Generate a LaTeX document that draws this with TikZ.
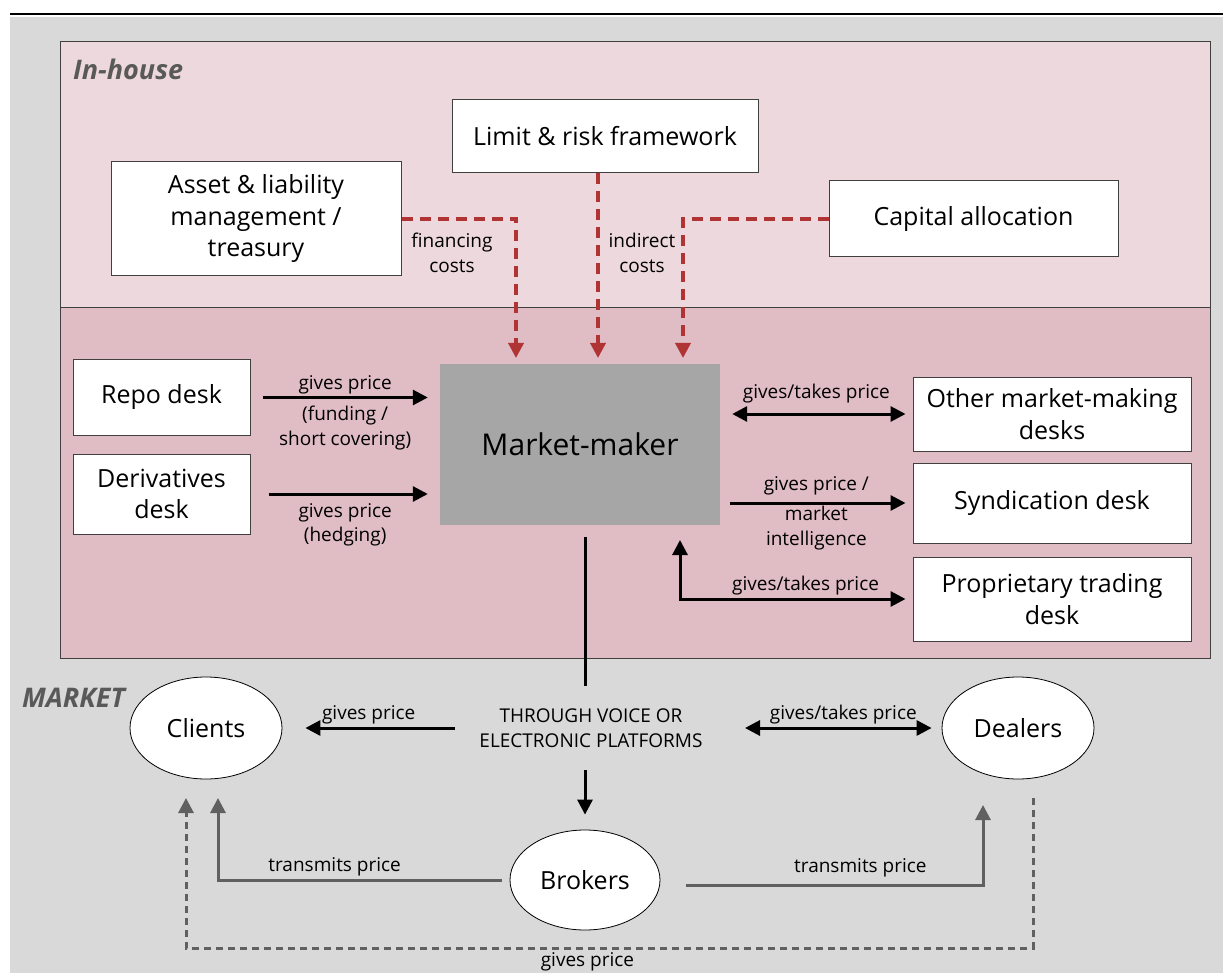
\documentclass[tikz,border=0pt]{standalone}
\usepackage{fontspec}
\setmainfont{Open Sans}
\usetikzlibrary{arrows.meta,shapes.geometric}
\definecolor{bggrey}{RGB}{217,217,217}
\definecolor{houselight}{RGB}{237,216,221}
\definecolor{housedark}{RGB}{224,188,197}
\definecolor{mmgrey}{RGB}{166,166,166}
\definecolor{costred}{RGB}{176,52,52}
\definecolor{linkgrey}{RGB}{96,96,96}
\definecolor{titlegrey}{RGB}{89,89,89}
\definecolor{edgegrey}{RGB}{64,64,64}
\tikzset{
  desk/.style={rectangle, draw=edgegrey, line width=1pt, fill=white, align=center,
    font=\fontsize{25}{31.5}\selectfont, inner sep=0pt},
  party/.style={ellipse, draw=black, line width=0.8pt, fill=white, minimum width=152pt,
    minimum height=102pt, inner sep=0pt, font=\fontsize{25}{30}\selectfont},
  lbl/.style={align=center, text=black, font=\fontsize{19}{24.5}\selectfont, inner sep=2pt},
  region/.style={draw=edgegrey, line width=1pt},
  zone-title/.style={font=\fontsize{27}{30}\selectfont\bfseries\itshape, text=titlegrey,
    anchor=west, inner sep=0pt},
  flow/.style={line width=3pt, ->},
  flow-both/.style={line width=3pt, <->},
  cost/.style={costred, line width=3.5pt, dash pattern=on 11pt off 7pt, ->},
  relay/.style={linkgrey, line width=3pt, ->},
  relay-dash/.style={relay, dash pattern=on 7pt off 5pt}
}

\begin{document}
\begin{tikzpicture}[x=1pt, y=-1pt, >={Triangle[length=15pt,width=15pt]}]
  \useasboundingbox (0,0) rectangle (1223,973);

  % Background and zones
  \fill[bggrey] (10,17) rectangle (1223,973);
  \draw[line width=2.5pt] (10,14) -- (1223,14);
  \draw[region, fill=houselight] (60,42) rectangle (1210,308);
  \draw[region, fill=housedark] (60,308) rectangle (1210,658);
  \node[zone-title] (inhouse) at (73,69) {In-house};
  \node[zone-title] (market) at (22,698) {MARKET};

  % In-house boxes
  \node[desk, minimum width=290pt, minimum height=114pt] (alm) at (256,219) {Asset \& liability\\management /\\treasury};
  \node[desk, minimum width=306pt, minimum height=73pt] (limit) at (605,136.5) {Limit \& risk framework};
  \node[desk, minimum width=289pt, minimum height=76pt] (capital) at (973.5,219) {Capital allocation};
  \node[desk, minimum width=177pt, minimum height=75pt] (repo) at (161.5,397.5) {Repo desk};
  \node[desk, minimum width=177pt, minimum height=80pt] (deriv) at (161.5,494) {Derivatives\\desk};
  \node[fill=mmgrey, minimum width=280pt, minimum height=161pt, font=\fontsize{30}{36}\selectfont] (mm) at (580,444.5) {Market-maker};
  \node[desk, minimum width=278pt, minimum height=74pt] (other) at (1052,414) {Other market-making\\desks};
  \node[desk, minimum width=278pt, minimum height=80pt] (synd) at (1052,503) {Syndication desk};
  \node[desk, minimum width=278pt, minimum height=84pt] (prop) at (1052,599) {Proprietary trading\\desk};

  % Market parties
  \node[party] (clients) at (206,728) {Clients};
  \node[party] (dealers) at (1018,728) {Dealers};
  \node[party, minimum width=150pt, minimum height=100pt] (brokers) at (585,880) {Brokers};
  \node[lbl] (platforms) at (591,728) {THROUGH VOICE OR\\ELECTRONIC PLATFORMS};

  \coordinate (fin-in) at (516,358);
  \coordinate (lim-in) at (598,358);
  \coordinate (ind-in) at (683,358);
  \coordinate (prop-up) at (680,540);
  \coordinate (mm-out) at (585,537);
  \coordinate (pf-top) at (585,686);
  \coordinate (pf-bot) at (585,770);
  \coordinate (pf-left) at (455,728);
  \coordinate (pf-right) at (745,728);
  \coordinate (cl-solid) at (218,798);
  \coordinate (cl-dash) at (186,798);
  \coordinate (dl-solid) at (983,805);
  \coordinate (dl-dash) at (1033,798);

  % Cost links
  \draw[cost] (alm.east) -| (fin-in);
  \draw[cost] (limit.south -| lim-in) -- (lim-in);
  \draw[cost] (capital.west) -| (ind-in);
  \node[lbl] (fin-lbl) at (452,253) {financing\\costs};
  \node[lbl] (ind-lbl) at (642,253) {indirect\\costs};

  % Desk links
  \draw[flow, shorten <=12pt, shorten >=12pt] (repo.east) -- (repo.east -| mm.west)
    node[lbl, midway, above] {gives price}
    node[lbl, midway, below=5pt] {(funding /\\short covering)};
  \draw[flow, shorten <=18pt, shorten >=12pt] (deriv.east) -- (deriv.east -| mm.west)
    node[lbl, midway, below=6pt] {gives price\\(hedging)};
  \draw[flow-both, shorten <=12pt, shorten >=7pt] (mm.east |- other.west) -- (other.west)
    node[lbl, midway, above=7pt] {gives/takes price};
  \draw[flow, shorten <=10pt, shorten >=7pt] (mm.east |- synd.west) -- (synd.west)
    node[lbl, midway, above=4pt] {gives price /}
    node[lbl, midway, below] {market\\intelligence};
  \draw[flow-both, shorten >=7pt] (prop-up) |- (prop.west)
    node[lbl, pos=0.77, above] {gives/takes price};

  % Market links
  \draw[line width=3pt] (mm-out) -- (pf-top);
  \draw[flow, shorten >=15pt] (pf-bot) -- (brokers.north);
  \draw[flow, shorten >=23pt] (pf-left) -- (clients.east)
    node[lbl, midway, above] {gives price};
  \draw[flow-both, shorten >=10pt] (pf-right) -- (dealers.west)
    node[lbl, midway, above] {gives/takes price};
  \draw[relay, shorten <=8pt] (brokers.west) -| (cl-solid)
    node[lbl, pos=0.3, above] {transmits price};
  \draw[relay, shorten <=26pt] ([yshift=-5pt]brokers.east) -| (dl-solid)
    node[lbl, pos=0.31, above=4pt] {transmits price};
  \draw[relay-dash] (dl-dash) -- ++(0,150) -| (cl-dash)
    node[lbl, pos=0.263, below=1pt] {gives price};
\end{tikzpicture}
\end{document}
